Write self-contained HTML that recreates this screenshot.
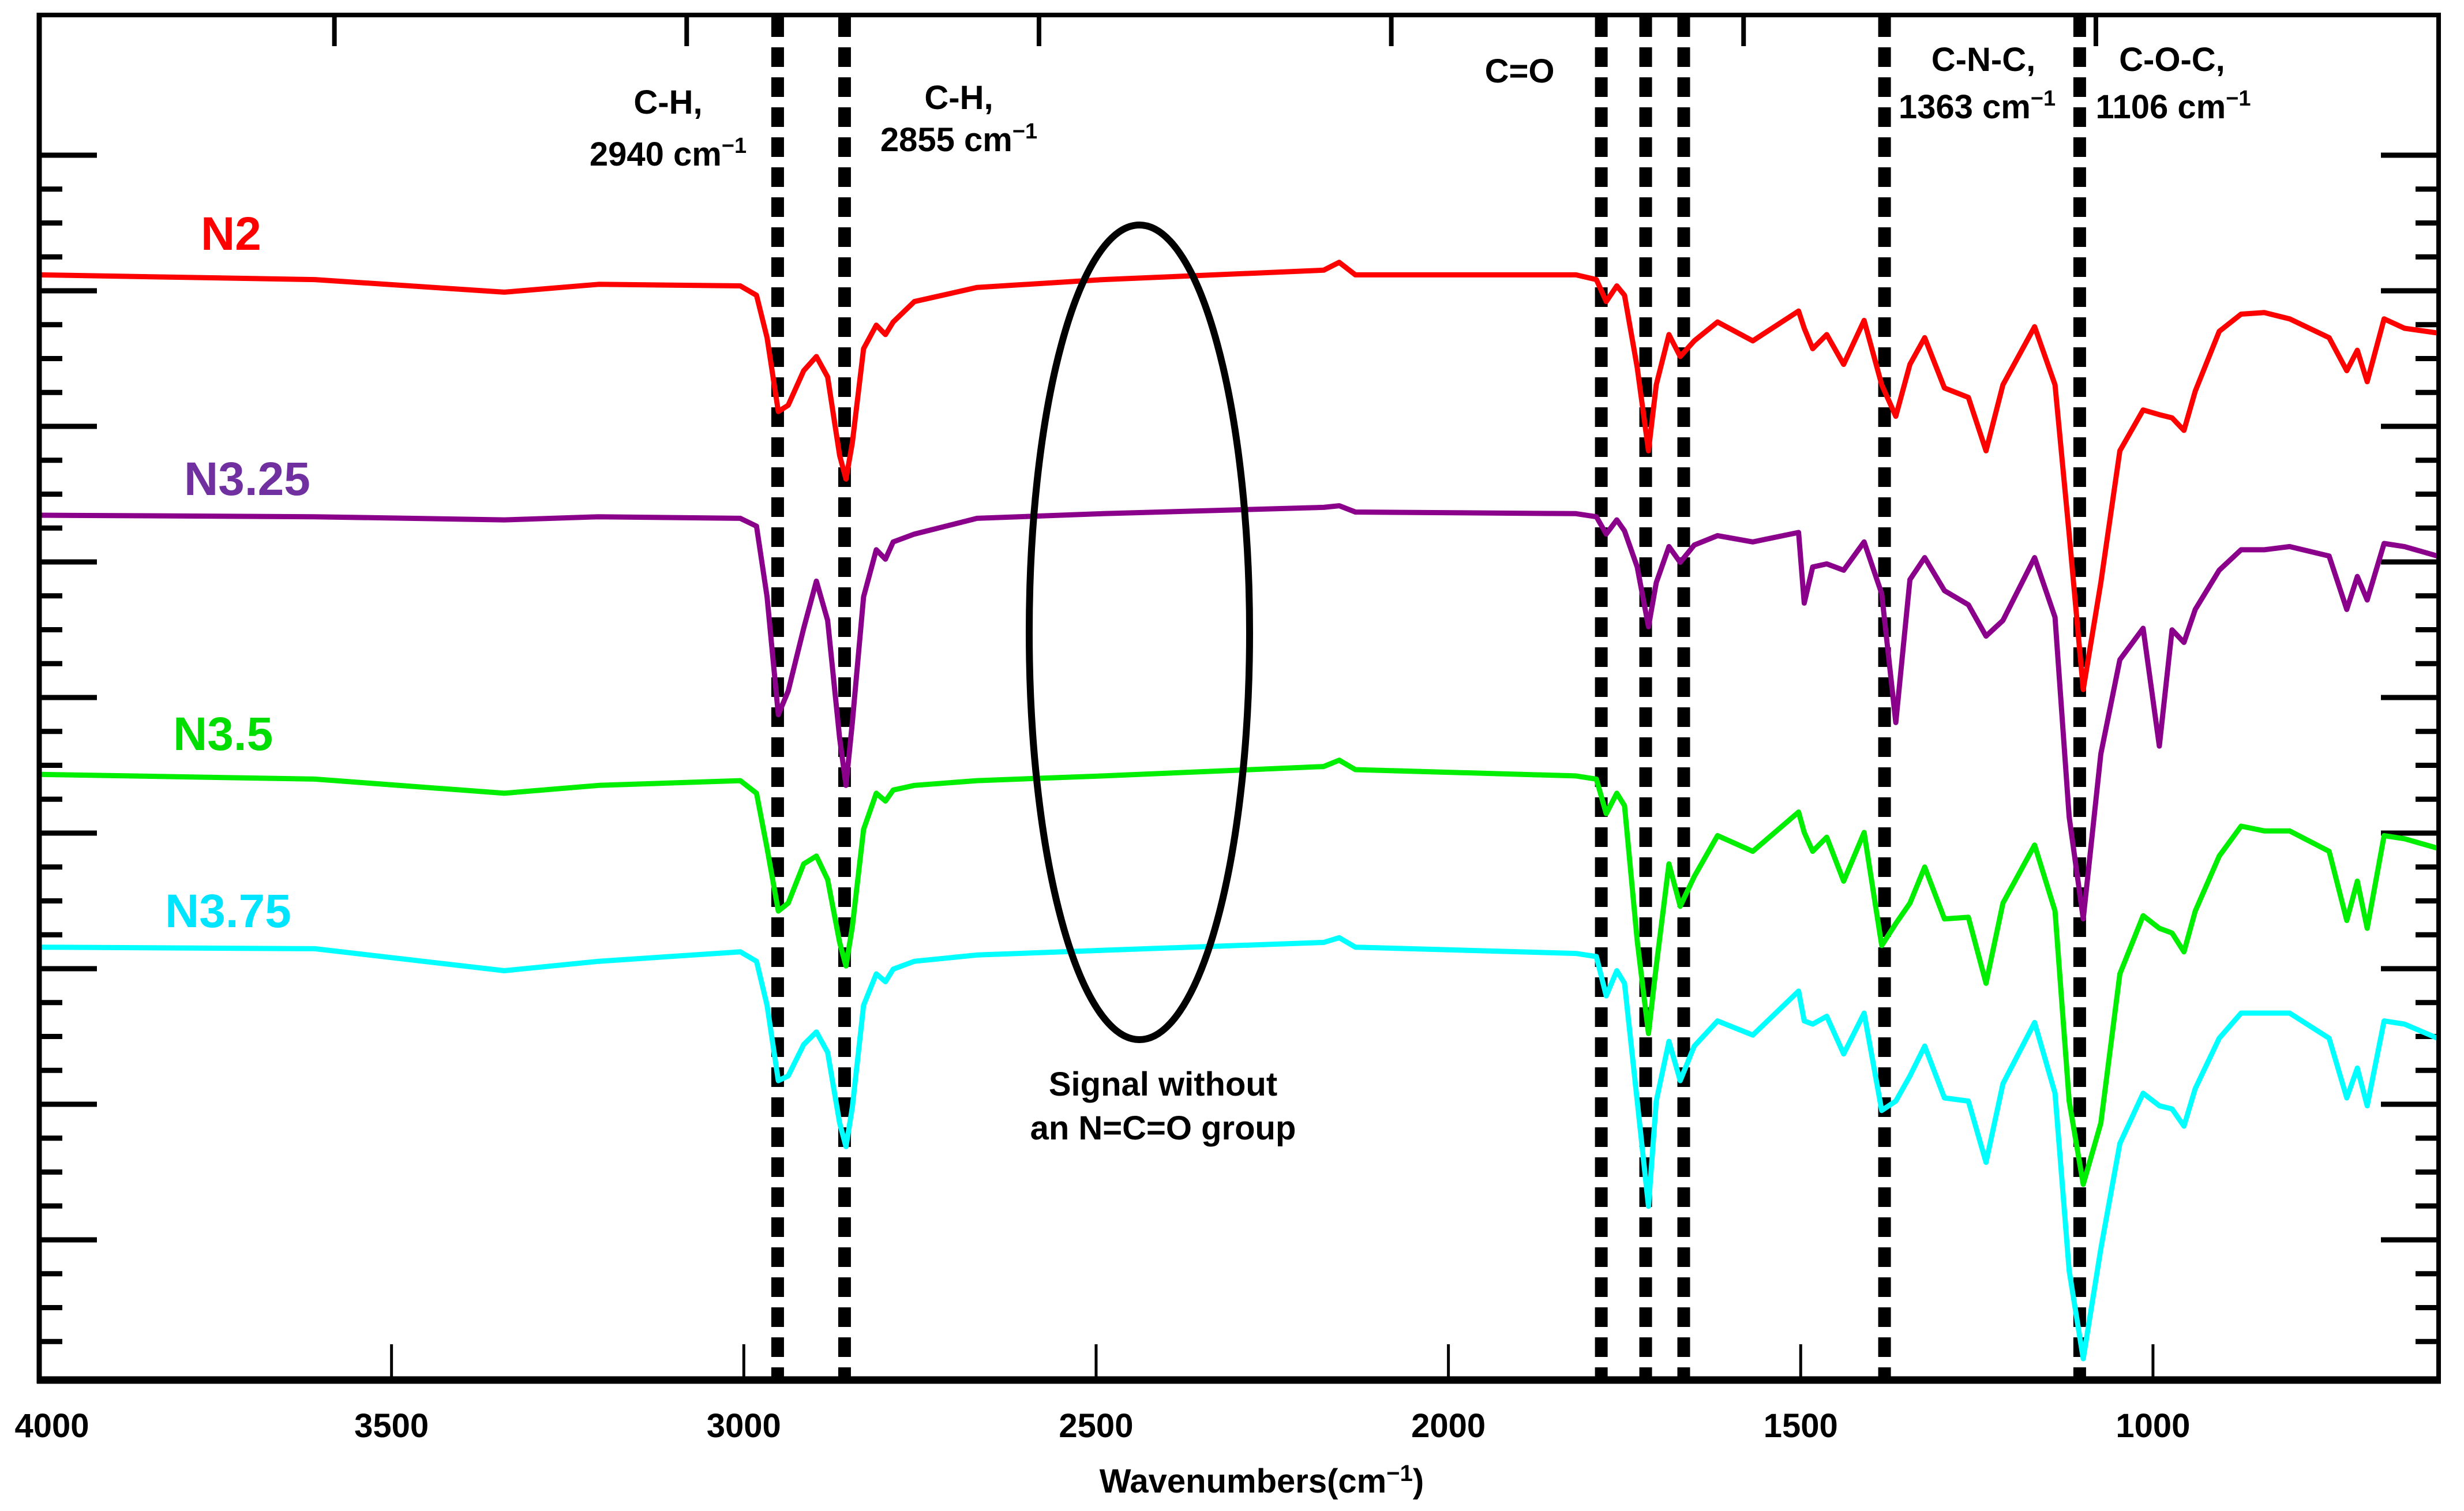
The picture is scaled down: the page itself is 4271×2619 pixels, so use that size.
<!DOCTYPE html>
<html><head><meta charset="utf-8"><style>
html,body{margin:0;padding:0;background:#fff;}
svg{display:block;}
text{font-family:"Liberation Sans",Arial,sans-serif;font-weight:bold;}
</style></head><body>
<svg id="chart" xmlns="http://www.w3.org/2000/svg" width="4271" height="2619" viewBox="0 0 4271 2619">
<rect x="0" y="0" width="4271" height="2619" fill="#fff"/>
<g id="ticks"></g>
<g id="dashes"></g>
<g id="series"></g>
<ellipse cx="1975" cy="1096" rx="191" ry="706" fill="none" stroke="#000" stroke-width="12"/>
<g id="frame">
<line x1="68" y1="26" x2="4227" y2="26" stroke="#000" stroke-width="8"/>
<line x1="68" y1="22" x2="68" y2="2398" stroke="#000" stroke-width="9"/>
<line x1="4227" y1="22" x2="4227" y2="2398" stroke="#000" stroke-width="8"/>
<line x1="64" y1="2392" x2="4231" y2="2392" stroke="#000" stroke-width="13"/>
</g>
<g id="xlabels"></g>
<text x="2187" y="2587" font-size="58" text-anchor="middle">Wavenumbers(cm<tspan font-size="40" dy="-20">−1</tspan><tspan dy="20">)</tspan></text>
<g>
<text x="348" y="433" font-size="82" fill="#ff0000">N2</text>
<text x="319" y="858" font-size="82" fill="#7030a0">N3.25</text>
<text x="300" y="1300" font-size="82" fill="#00dd00">N3.5</text>
<text x="286" y="1607" font-size="82" fill="#00e5ff">N3.75</text>
</g>
<g font-size="58" text-anchor="middle">
<text x="1158" y="197">C-H,</text>
<text x="1158" y="287">2940 cm<tspan font-size="38" dy="-22">−1</tspan></text>
<text x="1662" y="189">C-H,</text>
<text x="1662" y="262">2855 cm<tspan font-size="38" dy="-22">−1</tspan></text>
<text x="2634" y="143">C=O</text>
<text x="3438" y="123">C-N-C,</text>
<text x="3427" y="205">1363 cm<tspan font-size="38" dy="-22">−1</tspan></text>
<text x="3765" y="123">C-O-C,</text>
<text x="3767" y="205">1106 cm<tspan font-size="38" dy="-22">−1</tspan></text>
<text x="2016" y="1899">Signal without</text>
<text x="2016" y="1975">an N=C=O group</text>
</g>
</svg>
<script>
// ---- data ----
const wavenumbers = [4000,3609,3340,3206,3005,2982,2967,2951,2937,2915,2897,2881,2864,2855,2846,2830,2812,2799,2788,2758,2669,2490,2177,2155,2132,1819,1790,1776,1761,1750,1732,1716,1705,1687,1671,1651,1618,1568,1503,1495,1483,1463,1439,1410,1385,1365,1345,1324,1296,1262,1237,1213,1168,1139,1119,1099,1074,1047,1014,991,973,956,940,906,875,842,806,750,725,710,696,672,643,596];
// inverted intensity (a.u., larger = lower on chart)
const seriesN2 = [175,178,186,181,182,188,215,262,258,236,227,240,290,305,282,222,207,213,205,192,183,178,172,167,175,175,178,192,182,188,234,287,245,213,227,217,205,217,198,209,222,213,232,204,245,265,232,215,247,253,287,245,208,245,340,439,371,287,261,264,266,274,249,211,200,199,203,215,236,223,243,203,209,212];
const seriesN325 = [328,329,331,329,330,335,380,455,440,400,370,395,470,500,460,380,350,356,345,340,330,327,323,322,326,327,329,340,331,338,361,399,371,348,358,347,341,345,339,384,361,359,363,345,378,460,369,355,376,385,405,395,355,393,520,585,480,420,400,475,401,409,388,363,350,350,348,354,388,367,382,346,348,354];
const seriesN35 = [493,496,505,500,497,505,540,580,575,550,545,560,600,615,590,528,505,510,503,500,497,494,488,484,490,494,496,518,505,513,599,658,615,550,577,558,532,542,517,530,542,533,561,530,602,588,575,552,585,584,626,575,538,580,701,754,715,620,583,591,594,606,580,545,526,529,529,542,586,561,591,532,534,540];
const seriesN375 = [603,604,618,612,606,612,640,688,685,665,657,670,715,730,705,640,620,625,617,612,608,605,600,597,603,607,609,634,618,626,701,768,701,663,688,666,650,659,631,650,652,647,671,645,707,701,685,666,699,701,740,690,651,696,809,865,795,728,696,704,706,717,693,661,645,645,645,661,699,680,704,650,652,661];
const peakLines = [2952,2857,1783,1720,1666,1381,1104];
const xTickValues = [4000,3500,3000,2500,2000,1500,1000];
const xTickLabels = ["4000","3500","3000","2500","2000","1500","1000"];

// ---- scales ----
const X0 = 68, XPER = 1.2213;
function xScale(wn){ return X0 + (4000 - wn) * XPER; }
function yScale(v){ return v * 2.7225; }

const NS = "http://www.w3.org/2000/svg";
function mk(tag, attrs){ const e = document.createElementNS(NS, tag); for (const k in attrs) e.setAttribute(k, attrs[k]); return e; }

// series
const sg = document.getElementById('series');
const defs = [[seriesN2,'#ff0000','series-n2'],[seriesN325,'#8b008b','series-n3-25'],[seriesN35,'#00ee00','series-n3-5'],[seriesN375,'#00ffff','series-n3-75']];
defs.forEach(function(d){
  let p = '';
  for (let i = 0; i < wavenumbers.length; i++) {
    p += (i ? 'L' : 'M') + xScale(wavenumbers[i]).toFixed(1) + ',' + yScale(d[0][i]).toFixed(1);
  }
  const path = mk('path', {d: p, fill: 'none', stroke: d[1], 'stroke-width': 9, 'stroke-linejoin': 'round'});
  
  
  sg.appendChild(path);
});

// peak dashed lines
const dg = document.getElementById('dashes');
peakLines.forEach(function(wn){
  const l = mk('line', {x1: xScale(wn), x2: xScale(wn), y1: 30, y2: 2390, stroke: '#000', 'stroke-width': 22, 'stroke-dasharray': '34 18'});
  
  
  dg.appendChild(l);
});

// ticks
const tg = document.getElementById('ticks');
for (let i = -20; i < 20; i++) {
  const y = 1444 + i * 58.75;
  if (y < 60 || y > 2380) continue;
  const major = (((i % 4) + 4) % 4) === 0;
  const len = major ? 100 : 40;
  const l1 = mk('line', {x1: 68, x2: 68 + len, y1: y, y2: y, stroke: '#000', 'stroke-width': 9});
  
  
  tg.appendChild(l1);
  const l2 = mk('line', {x1: 4227 - len, x2: 4227, y1: y, y2: y, stroke: '#000', 'stroke-width': 9});
  
  
  tg.appendChild(l2);
}
const xl = document.getElementById('xlabels');
xTickValues.forEach(function(v, i){
  const x = xScale(v);
  const t = mk('line', {x1: x, x2: x, y1: 2330, y2: 2392, stroke: '#000', 'stroke-width': 5});
  
  
  tg.appendChild(t);
  const tt = mk('line', {x1: x - 99, x2: x - 99, y1: 26, y2: 80, stroke: '#000', 'stroke-width': 8});
  
  
  tg.appendChild(tt);
  const lab = mk('text', {x: (i === 0 ? x + 22 : x), y: 2491, 'font-size': 58, 'text-anchor': 'middle'});
  lab.textContent = xTickLabels[i];
  
  
  xl.appendChild(lab);
});
</script>
</body></html>
